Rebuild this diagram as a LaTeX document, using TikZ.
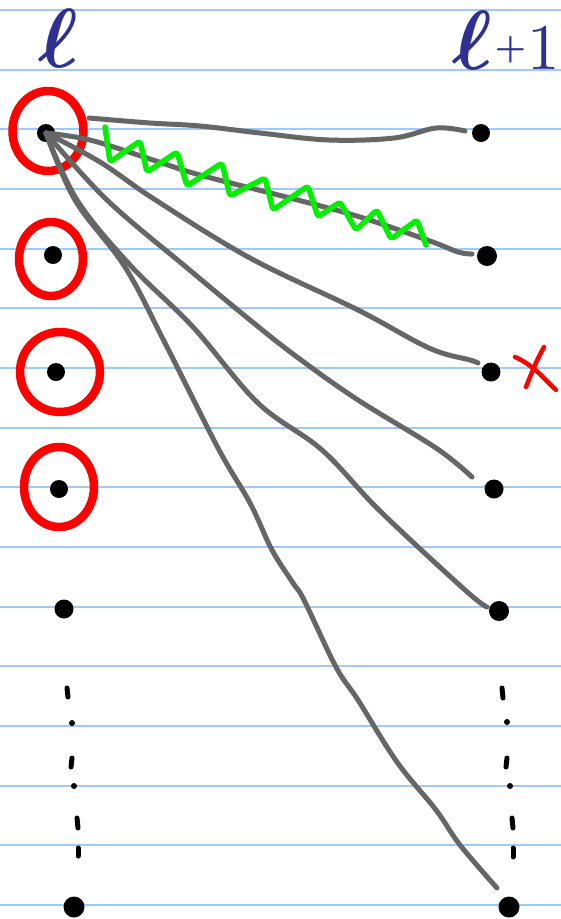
\documentclass[tikz,border=0pt]{standalone}
\usetikzlibrary{shapes.geometric}
\definecolor{ruling}{RGB}{160,202,245}
\definecolor{pengrey}{RGB}{102,102,102}
\definecolor{pengreen}{RGB}{0,240,0}
\definecolor{penred}{RGB}{255,0,0}
\definecolor{pennavy}{RGB}{46,49,146}
\tikzset{
  rule/.style={draw=ruling,line width=2pt},
  dot/.style={circle,fill=black,inner sep=0pt,minimum size=#1},
  dot/.default=18pt,
  ring/.style={ellipse,draw=penred,line width=8.5pt,inner sep=0pt},
  edge/.style={draw=pengrey,line width=5pt,line cap=round,line join=round},
  zz/.style={draw=pengreen,line width=5.5pt,line cap=round,line join=round,rounded corners=3pt},
  redpen/.style={draw=penred,line width=4.5pt,line cap=round},
  dashmark/.style={draw=black,line width=5pt,line cap=round},
  lbl/.style={text=pennavy,inner sep=0pt}
}
\begin{document}
\begin{tikzpicture}[x=1pt,y=-1pt]
\useasboundingbox (0,0) rectangle (561,919);
\fill[white] (0,0) rectangle (561,919);
% ruled lines
\foreach \k in {0,...,15}{
  \draw[rule] (0,{10+59.67*\k}) -- (561,{10+59.67*\k});
}
% labels
\node[lbl,anchor=base] (lab1) at (58,67) {\scalebox{8.4}{\boldmath$\ell$}};
\node[lbl,anchor=base west] (lab2) at (452,69) {\scalebox{8.4}{\boldmath$\ell$}\kern3pt\raisebox{11pt}{\scalebox{3.5}{\boldmath$+$}}\kern1pt\scalebox{6.5}{1}};
% red rings
\node[ring,minimum width=71pt,minimum height=80pt] (O1) at (48,131) {};
\node[ring,minimum width=64pt,minimum height=74pt] (O2) at (51,259) {};
\node[ring,minimum width=80pt,minimum height=80pt] (O3) at (60,372) {};
\node[ring,minimum width=70pt,minimum height=80pt] (O4) at (59,487) {};
% left dots
\node[dot] (L1) at (46,133) {};
\node[dot] (L2) at (53,255) {};
\node[dot] (L3) at (56,372) {};
\node[dot] (L4) at (59,489) {};
\node[dot=19pt] (L5) at (64,609) {};
\node[dot=21pt] (L6) at (74,907) {};
% right dots
\node[dot] (R1) at (481,133) {};
\node[dot=20pt] (R2) at (487,256) {};
\node[dot=19pt] (R3) at (491,372) {};
\node[dot=19pt] (R4) at (494,489) {};
\node[dot=20pt] (R5) at (499,611) {};
\node[dot=21pt] (R6) at (509,907) {};
% vertical dots (ellipsis)
\draw[dashmark] (67,688) -- (68,697);
\fill (72,723) circle (3pt);
\draw[dashmark] (72,758) -- (71,767);
\fill (74,786) circle (3pt);
\draw[dashmark] (77,818) -- (78,828);
\draw[dashmark] (78,848) -- (78,856);
\draw[dashmark] (502,688) -- (503,698);
\fill (507,722) circle (3pt);
\draw[dashmark] (507,758) -- (506,767);
\fill (510,786) circle (3pt);
\draw[dashmark] (512,818) -- (513,828);
\draw[dashmark] (513,848) -- (513,857);
% grey edges
\draw[edge] plot[smooth,tension=0.6] coordinates {(89,118) (150,123) (200,126) (260,133) (329,140) (394,138) (436,128) (465,131)};
\draw[edge] plot[smooth,tension=0.6] coordinates {(L1) (90,140) (150,159) (200,175) (290,198) (360,217) (430,241) (458,252) (472,254)};
\draw[edge] plot[smooth,tension=0.6] coordinates {(L1) (100,162) (154,199) (250,258) (358,310) (429,348) (470,360) (478,363)};
\draw[edge] plot[smooth,tension=0.6] coordinates {(L1) (107,200) (186,267) (250,320) (297,357) (358,400) (436,448) (472,477)};
\draw[edge] plot[smooth,tension=0.6] coordinates {(L1) (77,200) (130,265) (193,327) (258,403) (322,450) (379,510) (465,590) (487,607)};
\draw[edge] plot[smooth,tension=0.6] coordinates {(L1) (75,200) (125,267) (165,343) (218,448) (250,503) (272,550) (293,583) (304,600) (336,667) (358,700) (397,762) (436,810) (460,845) (497,888)};
% green zigzag
\draw[zz] (105,127) -- (110,162) -- (140,141) -- (147,172) -- (177,152) -- (187,186) -- (222,163) -- (230,196) -- (265,178) -- (273,210) -- (308,186) -- (318,217) -- (340,202) -- (356,230) -- (377,210) -- (391,239) -- (417,220) -- (426,245);
% red cross
\draw[redpen] (515,357) .. controls (535,366) and (545,380) .. (556,390);
\draw[redpen] (544,347) .. controls (536,362) .. (526,387);
\end{tikzpicture}
\end{document}
